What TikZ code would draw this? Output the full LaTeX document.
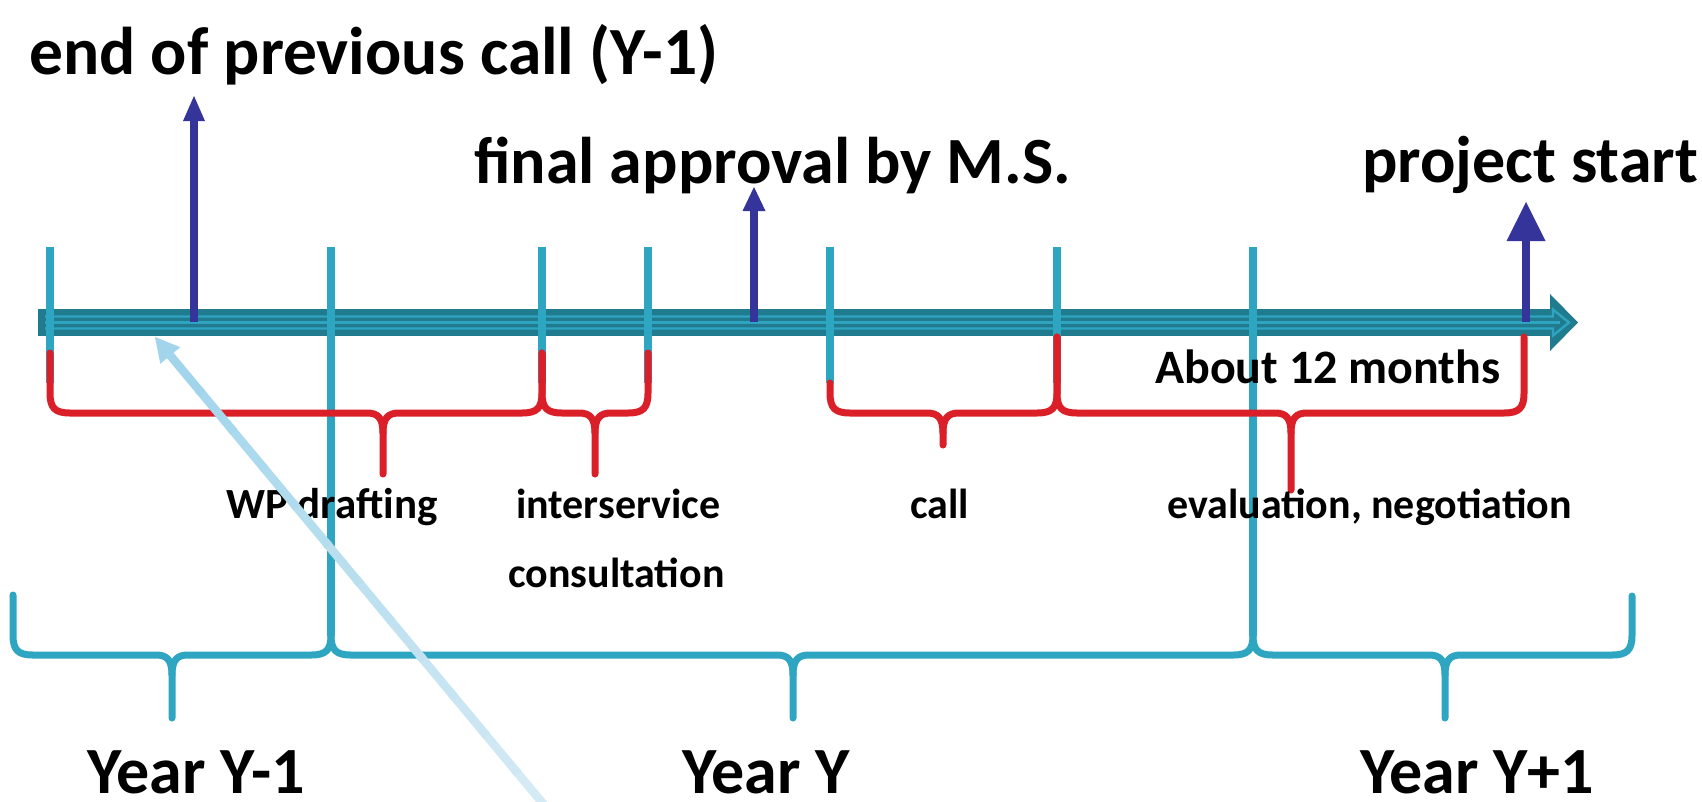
\documentclass[tikz,border=0pt]{standalone}
\usepackage{fontspec}
\setmainfont{Carlito}
\usetikzlibrary{calc}
\definecolor{tealL}{HTML}{2EA5C1}
\definecolor{tealD}{HTML}{1F7B8D}
\definecolor{stripe}{HTML}{2FA4C0}
\definecolor{navy}{HTML}{35349A}
\definecolor{redB}{HTML}{DA1F28}
\definecolor{skyA}{HTML}{A2D5EB}
\definecolor{skyB}{HTML}{D4EAF4}
\newcommand{\mkbrace}[8]{%
  \draw[#1] (#2,#3) -- (#2,#6-20) .. controls (#2,#6-5) and (#2+5,#6) .. (#2+20,#6)
     -- (#7-16,#6) .. controls (#7-5,#6) and (#7,#6+5) .. (#7,#6+20) -- (#7,#8);
  \draw[#1] (#7,#6+20) .. controls (#7,#6+5) and (#7+5,#6) .. (#7+16,#6)
     -- (#4-20,#6) .. controls (#4-5,#6) and (#4,#6-5) .. (#4,#6-20) -- (#4,#5);
}
\begin{document}
\begin{tikzpicture}[x=1pt,y=-1pt,
  big/.style={font=\fontsize{66}{70}\selectfont\bfseries, inner sep=0, anchor=base west},
  lab/.style={font=\fontsize{42}{46}\selectfont\bfseries, inner sep=0, anchor=base west},
  tickmark/.style={draw=tealL, line width=8pt},
  redbr/.style={draw=redB, line width=7pt, line cap=round, line join=round},
  yearbr/.style={draw=tealL, line width=7pt, line cap=round, line join=round},
  navyshaft/.style={draw=navy, line width=8pt}]
\useasboundingbox (0,0) rectangle (1702,801);
\fill[white] (0,0) rectangle (1702,801);

% main time axis
\fill[tealD] (38,309) rectangle (1550,336);
\fill[tealD] (1550,294) -- (1578,322.5) -- (1550,351) -- cycle;
\draw[stripe, line width=2.4pt] (45,316.5) -- (1553,316.5) -- (1553,309.5) -- (1569,322.5) -- (1553,335.5) -- (1553,328.5) -- (45,328.5);
\draw[stripe, line width=2.2pt] (45,322.5) -- (1560,322.5);

% ticks
\foreach \x in {50,542,648,830,1057} \draw[tickmark] (\x,247) -- (\x,383);
\draw[tickmark] (331,247) -- (331,636);
\draw[tickmark] (1253,247) -- (1253,636);

% navy arrows
\coordinate (a1) at (194,322); \coordinate (a1t) at (194,96);
\coordinate (a2) at (754,322); \coordinate (a2t) at (754,187);
\coordinate (a3) at (1526,322); \coordinate (a3t) at (1526,202);
\draw[navyshaft] (a1) -- ($(a1t)+(0,24)$);
\fill[navy] (a1t) -- ++(11,25) -- ++(-22,0) -- cycle;
\draw[navyshaft] (a2) -- ($(a2t)+(0,23)$);
\fill[navy] (a2t) -- ++(11.5,24) -- ++(-23,0) -- cycle;
\draw[navyshaft] (a3) -- ($(a3t)+(0,38)$);
\fill[navy] (a3t) -- ++(19.5,39) -- ++(-39,0) -- cycle;

% red braces
\mkbrace{redbr}{50}{353}{542}{353}{413}{383}{474}
\mkbrace{redbr}{542}{353}{648}{353}{413}{595}{474}
\mkbrace{redbr}{830}{383}{1057}{337}{413}{943}{445}
\mkbrace{redbr}{1057}{337}{1524}{337}{413}{1291}{490}

% year braces
\mkbrace{yearbr}{13}{595}{331}{610}{655}{172}{718}
\mkbrace{yearbr}{331}{610}{1253}{610}{655}{793}{718}
\mkbrace{yearbr}{1253}{610}{1632}{596}{655}{1445}{718}

% texts
\node[big, font=\fontsize{67.5}{70}\selectfont\bfseries] (t1) at (29,74) {end of previous call (Y-1)};
\node[big] (t2) at (474,183) {final approval by M.S.};
\node[big] (t3) at (1362,182) {project start};
\node[big] (y1) at (87,793) {Year Y-1};
\node[big] (y2) at (682,793) {Year Y};
\node[big] (y3) at (1360,793) {Year Y+1};
\node[lab, font=\fontsize{43}{46}\selectfont\bfseries] (l1) at (226,518) {WP drafting};
\node[lab] (l2) at (516,518) {interservice};
\node[lab] (l3) at (508,587) {consultation};
\node[lab] (l4) at (910,518) {call};
\node[lab] (l5) at (1167,518) {evaluation, negotiation};
\node[lab, font=\fontsize{48}{50}\selectfont\bfseries] (l6) at (1155,383) {About 12 months};

% light blue pointer
\coordinate (skytail) at (550,812);
\coordinate (skytip) at (155,337);
\coordinate (skybase) at (170.3,355.5);
\foreach \i in {0,...,11} {
  \pgfmathsetmacro\a{\i/12}
  \pgfmathsetmacro\b{(\i+1)/12+0.01}
  \pgfmathtruncatemacro\m{100*\i/11}
  \draw[line width=8.5pt, color=skyA!\m!skyB] ($(skytail)!\a!(skybase)$) -- ($(skytail)!\b!(skybase)$);
}
\fill[skyA] (skytip) -- (180.3,347.2) -- (160.3,363.8) -- cycle;
\end{tikzpicture}
\end{document}
